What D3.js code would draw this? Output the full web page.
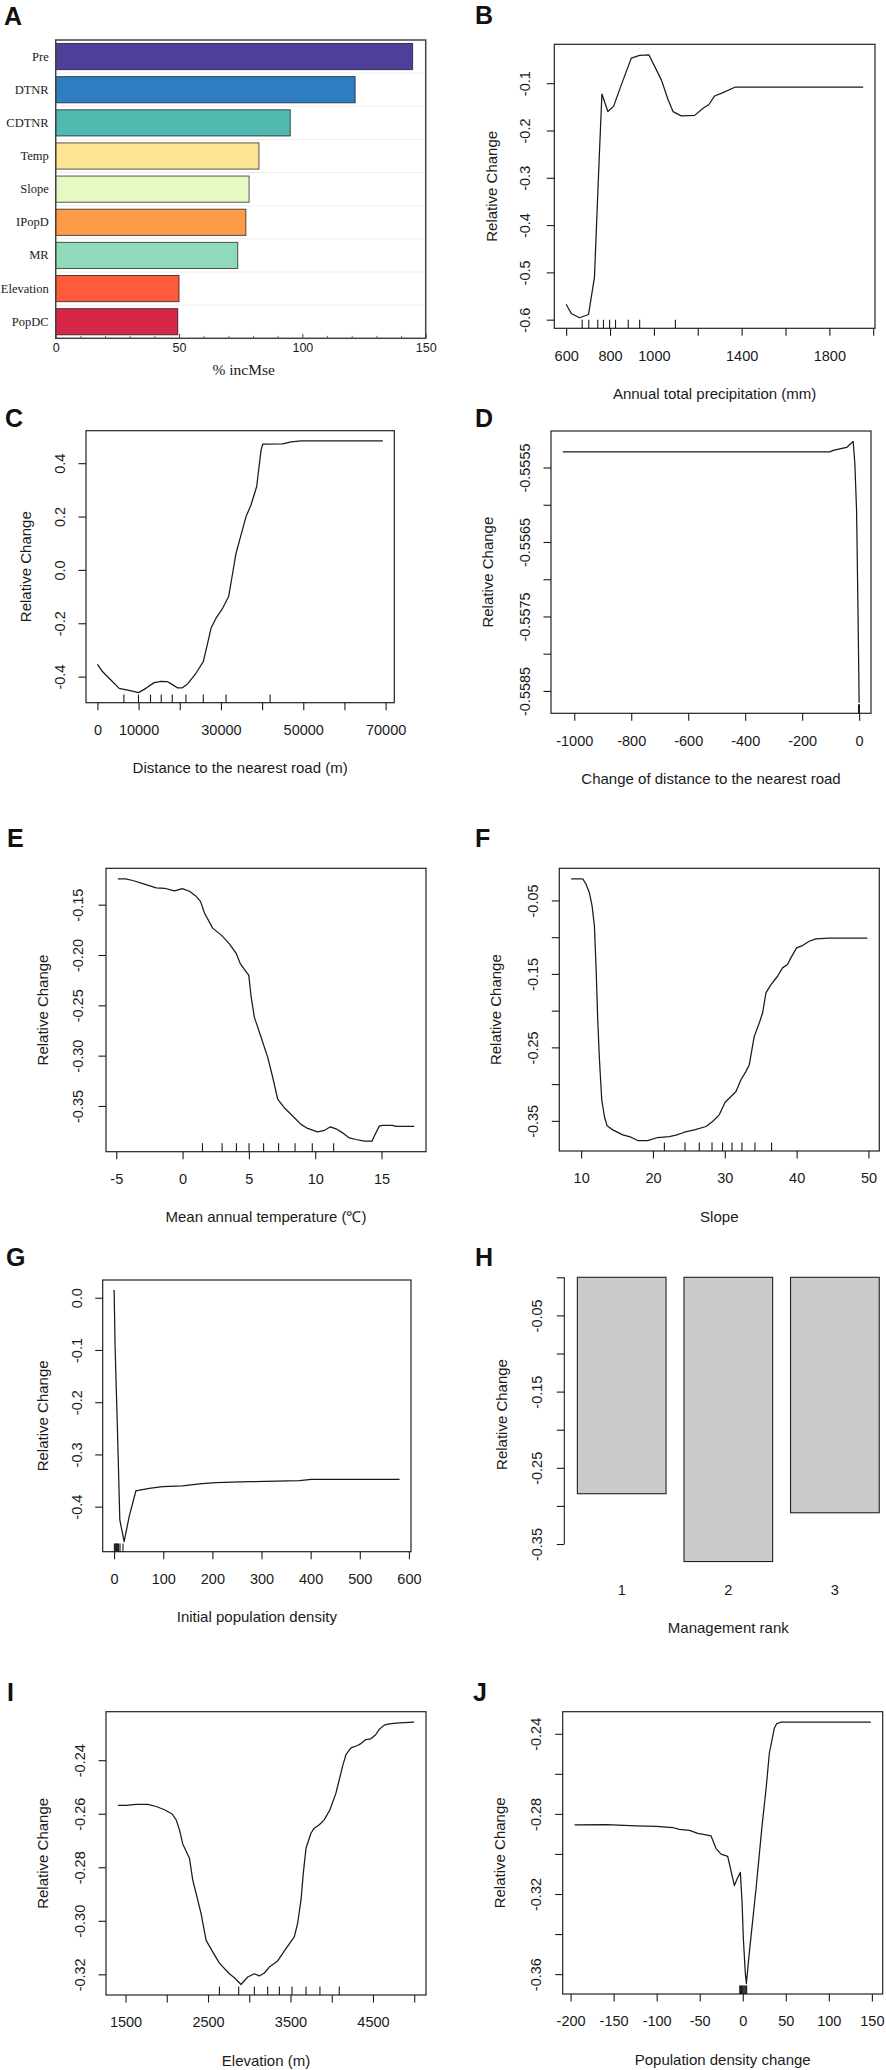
<!DOCTYPE html>
<html><head><meta charset="utf-8">
<script src="https://cdn.jsdelivr.net/npm/d3@7"></script>
<style>
body{margin:0;background:#fff;}
svg{display:block;}
</style></head><body>
<script>
// ================= DATA =================
// Panel A: variable importance
const impVars = ["Pre","DTNR","CDTNR","Temp","Slope","IPopD","MR","Elevation","PopDC"];
const impValues = [144.7,121.4,95.1,82.4,78.4,77.1,73.8,50.0,49.5];
const impTicks = [0,50,100,150];
const impMinorTicks = [10,20,30,40,60,70,80,90,110,120,130,140];
const impColors = ["#4F3F99","#2F7EC2","#52B9B1","#FEE596","#E6F9C3","#FD9B49","#8FDAB8","#FE5B3B","#D62748"];

// Panel B: annual total precipitation
const preX = [600,623,661,702,729,749,763,790,816,851,897,935,977,1034,1064,1087,1125,1186,1224,1251,1277,1315,1369,1954];
const preY = [-0.5675,-0.587,-0.596,-0.589,-0.51,-0.277,-0.123,-0.16,-0.149,-0.104,-0.047,-0.041,-0.040,-0.093,-0.134,-0.160,-0.169,-0.168,-0.153,-0.145,-0.127,-0.120,-0.1085,-0.1085];
const preRug = [673,703,744,770,798,825,883,935,1098];
const preXTicks = [600,800,1000,1200,1400,1600,1800,2000];
const preXLabels = ["600","800","1000","","1400","","1800",""];
const preYTicks = [-0.6,-0.5,-0.4,-0.3,-0.2,-0.1];
const preYLabels = ["-0.6","-0.5","-0.4","-0.3","-0.2","-0.1"];

// Panel C: distance to the nearest road
const roadX = [0,1217,2847,5280,8516,9976,11776,13795,15425,17031,18248,19464,20535,21897,23940,25716,26763,27590,28807,30413,31872,32846,33671,34889,36105,37322,38686,39756,40145,45011,47053,49486,69340];
const roadY = [-0.354,-0.381,-0.406,-0.444,-0.454,-0.46,-0.444,-0.4225,-0.4175,-0.419,-0.43,-0.4425,-0.4425,-0.4275,-0.3875,-0.344,-0.275,-0.219,-0.181,-0.144,-0.1,-0.0125,0.0625,0.131,0.2,0.244,0.3125,0.45,0.471,0.4725,0.48,0.484,0.484];
const roadRug = [6423,9976,12895,15499,18175,21508,25718,31241,41947];
const roadXTicks = [0,10000,20000,30000,40000,50000,60000,70000];
const roadXLabels = ["0","10000","","30000","","50000","","70000"];
const roadYTicks = [-0.4,-0.2,0,0.2,0.4];
const roadYLabels = ["-0.4","-0.2","0.0","0.2","0.4"];

// Panel D: change of distance to the nearest road
const cdX = [-1040,-103,-91,-68,-44,-21,-15,-9,-4,0];
const cdY = [-0.55529,-0.55529,-0.55527,-0.55525,-0.55523,-0.55515,-0.55545,-0.55608,-0.55744,-0.55866];
const cdRug = [-2,-1.5,-1,-0.5,0,0,0,0,0];
const cdXTicks = [-1000,-800,-600,-400,-200,0];
const cdXLabels = ["-1000","-800","-600","-400","-200","0"];
const cdYTicks = [-0.5585,-0.5580,-0.5575,-0.5570,-0.5565,-0.5560,-0.5555];
const cdYLabels = ["-0.5585","","-0.5575","","-0.5565","","-0.5555"];

// Panel E: mean annual temperature
const tempX = [-4.88,-4.3,-3.75,-3.0,-1.99,-1.36,-0.61,-0.03,0.52,1.02,1.35,1.65,2.27,2.98,3.53,4.04,4.34,4.74,4.99,5.17,5.41,5.92,6.42,6.8,7.17,7.67,8.3,8.93,9.43,10.18,10.69,11.14,11.57,12.06,12.57,13.07,13.7,14.28,14.45,14.83,15.08,15.83,16.08,17.46];
const tempY = [-0.1243,-0.1243,-0.126,-0.129,-0.1333,-0.1337,-0.1363,-0.134,-0.1367,-0.1417,-0.1467,-0.1583,-0.1733,-0.181,-0.189,-0.1983,-0.2083,-0.2157,-0.22,-0.2417,-0.2617,-0.2817,-0.3017,-0.3217,-0.3433,-0.3517,-0.36,-0.3683,-0.3723,-0.3757,-0.3743,-0.3707,-0.3727,-0.3767,-0.3817,-0.3833,-0.385,-0.385,-0.38,-0.37,-0.3693,-0.3693,-0.3703,-0.3703];
const tempRug = [1.5,2.98,4.06,5.01,6.11,7.24,8.48,9.78,11.39];
const tempXTicks = [-5,0,5,10,15];
const tempXLabels = ["-5","0","5","10","15"];
const tempYTicks = [-0.35,-0.30,-0.25,-0.20,-0.15];
const tempYLabels = ["-0.35","-0.30","-0.25","-0.20","-0.15"];

// Panel F: slope
const slopeX = [8.61,10.22,10.7,11.15,11.53,11.85,12.09,12.31,12.55,12.87,13.24,13.62,14.4,15.79,16.95,17.87,19.26,20.65,22.28,23.21,24.37,25.76,27.39,28.3,29.23,30.03,30.86,31.56,32.25,32.95,33.41,34.1,34.8,35.26,35.73,36.43,37.34,38.04,38.73,39.2,39.99,40.82,41.75,42.68,44.53,49.86];
const slopeY = [-0.0205,-0.0205,-0.0282,-0.0395,-0.0577,-0.085,-0.1441,-0.2123,-0.2668,-0.3214,-0.3441,-0.3568,-0.3623,-0.3691,-0.3723,-0.3768,-0.3768,-0.3727,-0.3714,-0.3695,-0.3655,-0.3623,-0.3577,-0.3509,-0.3418,-0.325,-0.3168,-0.31,-0.2941,-0.2827,-0.2736,-0.235,-0.2168,-0.2032,-0.1759,-0.1645,-0.1532,-0.1418,-0.1373,-0.1282,-0.1145,-0.1114,-0.1055,-0.1023,-0.1014,-0.1014];
const slopeRug = [21.59,24.46,26.45,28.22,29.69,31.0,32.39,34.2,36.51];
const slopeXTicks = [10,20,30,40,50];
const slopeXLabels = ["10","20","30","40","50"];
const slopeYTicks = [-0.35,-0.30,-0.25,-0.20,-0.15,-0.10,-0.05];
const slopeYLabels = ["-0.35","","-0.25","","-0.15","","-0.05"];

// Panel G: initial population density
const popX = [0,2,6.8,11.6,20.4,30.6,44.2,71.4,98.5,139.3,173.3,207.3,275.2,377.2,401,445,581];
const popY = [0.0147,-0.0938,-0.2533,-0.4255,-0.467,-0.419,-0.37,-0.365,-0.3617,-0.3604,-0.3566,-0.354,-0.3522,-0.3502,-0.3477,-0.3477,-0.3477];
const popRug = [0.5,2,3.5,5,6,7.5,9,12,18];
const popXTicks = [0,100,200,300,400,500,600];
const popXLabels = ["0","100","200","300","400","500","600"];
const popYTicks = [-0.4,-0.3,-0.2,-0.1,0];
const popYLabels = ["-0.4","-0.3","-0.2","-0.1","0.0"];

// Panel H: management rank
const mgmtRanks = ["1","2","3"];
const mgmtValues = [-0.284,-0.373,-0.309];
const mgmtYDomain = [-0.3732,0];
const mgmtYTicks = [-0.35,-0.30,-0.25,-0.20,-0.15,-0.10,-0.05,0];
const mgmtYLabels = ["-0.35","","-0.25","","-0.15","","-0.05",""];

// Panel I: elevation
const elevX = [1407,1508,1630,1770,1872,1972,2065,2114,2154,2194,2275,2315,2356,2416,2477,2557,2638,2759,2820,2901,2981,3062,3122,3183,3243,3344,3445,3546,3586,3627,3655,3688,3748,3788,3849,3909,3978,4051,4091,4131,4172,4233,4312,4353,4414,4475,4535,4575,4636,4696,4817,4999];
const elevY = [-0.2569,-0.2569,-0.2565,-0.2565,-0.2573,-0.2585,-0.2601,-0.2623,-0.266,-0.2713,-0.2766,-0.2848,-0.2898,-0.2973,-0.3073,-0.3116,-0.3158,-0.3198,-0.3213,-0.3238,-0.321,-0.3198,-0.3206,-0.3195,-0.3173,-0.315,-0.3104,-0.306,-0.301,-0.2923,-0.2823,-0.2729,-0.2673,-0.2654,-0.2641,-0.2623,-0.2585,-0.2523,-0.2473,-0.2423,-0.2379,-0.2354,-0.2345,-0.2338,-0.2323,-0.232,-0.2304,-0.2285,-0.2269,-0.2264,-0.2261,-0.2258];
const elevRug = [2638,2872,3062,3223,3365,3518,3688,3857,4091];
const elevXTicks = [1500,2000,2500,3000,3500,4000,4500,5000];
const elevXLabels = ["1500","","2500","","3500","","4500",""];
const elevYTicks = [-0.32,-0.30,-0.28,-0.26,-0.24];
const elevYLabels = ["-0.32","-0.30","-0.28","-0.26","-0.24"];

// Panel J: population density change
const pdcX = [-195.4,-158.6,-123.8,-100.6,-81.3,-73.6,-61.9,-52.3,-42.6,-36.8,-31,-25.2,-17.5,-9.7,-6.6,-2.8,-0.8,0.7,3,4.2,7.7,15.4,22.4,27,30.9,36.7,39.3,44.4,148.8];
const pdcY = [-0.2855,-0.2854,-0.286,-0.2862,-0.2868,-0.2877,-0.2882,-0.2897,-0.2905,-0.291,-0.2973,-0.3001,-0.3012,-0.3158,-0.3125,-0.3092,-0.3241,-0.3423,-0.3597,-0.3647,-0.3489,-0.3175,-0.286,-0.2678,-0.2496,-0.2372,-0.235,-0.2342,-0.2342];
const pdcRug = [-3.5,-2.5,-1.5,-0.5,0.5,1.5,2.5,3.5,4.5];
const pdcXTicks = [-200,-150,-100,-50,0,50,100,150];
const pdcXLabels = ["-200","-150","-100","-50","0","50","100","150"];
const pdcYTicks = [-0.36,-0.34,-0.32,-0.30,-0.28,-0.26,-0.24];
const pdcYLabels = ["-0.36","","-0.32","","-0.28","","-0.24"];

// ================= DRAWING =================
const SANS = "'Liberation Sans', Arial, Helvetica, sans-serif";
const SERIF = "'Liberation Serif', 'Times New Roman', serif";
const INK = "#1a1a1a";

const svg = d3.select("body").append("svg")
  .attr("width", 886).attr("height", 2070)
  .style("background", "#fff");

function letter(txt, x, y) {
  svg.append("text").attr("x", x).attr("y", y)
    .attr("font-family", SANS).attr("font-weight", "bold")
    .attr("font-size", 25).attr("fill", "#111").text(txt);
}

function rDomain(vals) {
  const lo = d3.min(vals), hi = d3.max(vals), pad = (hi - lo) * 0.04;
  return [lo - pad, hi + pad];
}

function styleAxisText(sel, size) {
  sel.attr("font-family", SANS).attr("font-size", size).attr("color", INK);
}

function linePanel(p) {
  const {l, t, r, b} = p.rect;
  const x = d3.scaleLinear().domain(rDomain(p.x)).range([l, r]);
  const y = d3.scaleLinear().domain(rDomain(p.y)).range([b, t]);
  const g = svg.append("g");

  // x axis
  const xa = g.append("g").attr("transform", `translate(0,${b})`)
    .call(d3.axisBottom(x).tickValues(p.xTicks)
      .tickFormat((d, i) => p.xLabels[i]).tickSize(7.5).tickPadding(14.5).tickSizeOuter(0));
  xa.select(".domain").remove();
  styleAxisText(xa, 14.5);
  xa.selectAll("line").attr("stroke-width", 1.1);

  // y axis (labels parallel to axis, as in R)
  const ya = g.append("g").attr("transform", `translate(${l},0)`)
    .call(d3.axisLeft(y).tickValues(p.yTicks)
      .tickFormat((d, i) => p.yLabels[i]).tickSize(7.5).tickSizeOuter(0));
  ya.select(".domain").remove();
  styleAxisText(ya, 14.5);
  ya.selectAll("line").attr("stroke-width", 1.1);
  ya.selectAll("text")
    .attr("x", null).attr("dy", "0.35em")
    .attr("text-anchor", "middle")
    .attr("transform", `translate(${-p.yLabOff},0) rotate(-90)`);

  // box
  g.append("rect").attr("x", l).attr("y", t)
    .attr("width", r - l).attr("height", b - t)
    .attr("fill", "none").attr("stroke", "#222").attr("stroke-width", 1.2);

  // rug
  const rugLen = 0.03 * (b - t);
  g.append("g").selectAll("line").data(p.rug).join("line")
    .attr("x1", d => x(d)).attr("x2", d => x(d))
    .attr("y1", b).attr("y2", b - rugLen)
    .attr("stroke", INK).attr("stroke-width", 1.1);

  // curve
  g.append("path").datum(d3.zip(p.x, p.y))
    .attr("d", d3.line().x(d => x(d[0])).y(d => y(d[1])))
    .attr("fill", "none").attr("stroke", INK)
    .attr("stroke-width", 1.25).attr("stroke-linejoin", "round");

  // titles
  g.append("text").attr("x", (l + r) / 2).attr("y", b + 70.5)
    .attr("text-anchor", "middle").attr("font-family", SANS)
    .attr("font-size", 15).attr("fill", INK).text(p.xTitle);
  g.append("text")
    .attr("transform", `translate(${l - p.yTitleOff},${(t + b) / 2}) rotate(-90)`)
    .attr("dy", "0.35em").attr("text-anchor", "middle")
    .attr("font-family", SANS).attr("font-size", 15).attr("fill", INK)
    .text("Relative Change");

  letter(p.letter, p.lx, p.ly);
}

// ---------- Panel A ----------
(function () {
  const l = 55.7, t = 40, r = 425.7, b = 338.3;
  const x = d3.scaleLinear().domain([0, 150]).range([l, r]);
  const y = d3.scaleBand().domain(impVars).range([t, b]).paddingInner(0.21).paddingOuter(0.105);
  const g = svg.append("g");

  // faint grid lines between bars
  const bounds = impVars.slice(1).map(v => y(v) - y.step() * y.paddingInner() / 2);
  g.append("g").selectAll("line").data(bounds).join("line")
    .attr("x1", l).attr("x2", r).attr("y1", d => d).attr("y2", d => d)
    .attr("stroke", "#e9e9e9").attr("stroke-width", 0.8);

  g.append("g").selectAll("rect").data(impVars).join("rect")
    .attr("x", x(0)).attr("y", d => y(d))
    .attr("width", (d, i) => x(impValues[i]) - x(0))
    .attr("height", y.bandwidth())
    .attr("fill", (d, i) => impColors[i])
    .attr("stroke", "rgba(0,0,0,0.65)").attr("stroke-width", 1);

  g.append("rect").attr("x", l).attr("y", t).attr("width", r - l).attr("height", b - t)
    .attr("fill", "none").attr("stroke", "#444").attr("stroke-width", 1.5);

  const xa = g.append("g").attr("transform", `translate(0,${b})`)
    .call(d3.axisBottom(x).tickValues(impTicks).tickFormat(d3.format("d"))
      .tickSize(-4.5).tickPadding(4.5).tickSizeOuter(0));
  xa.select(".domain").remove();
  styleAxisText(xa, 12.5);
  xa.selectAll("line").attr("stroke", "#444");
  const xm = g.append("g").attr("transform", `translate(0,${b})`)
    .call(d3.axisBottom(x).tickValues(impMinorTicks).tickFormat("").tickSize(-2.5).tickSizeOuter(0));
  xm.select(".domain").remove();
  xm.selectAll("line").attr("stroke", "#666");

  const ya = g.append("g").attr("transform", `translate(${l},0)`)
    .call(d3.axisLeft(y).tickSize(0).tickPadding(7));
  ya.select(".domain").remove();
  ya.attr("font-family", SERIF).attr("font-size", 12.5).attr("color", INK);

  g.append("text").attr("x", (l + r) / 2 + 3).attr("y", 374.5)
    .attr("text-anchor", "middle").attr("font-family", SERIF)
    .attr("font-size", 15.5).attr("fill", INK).text("% incMse");

  letter("A", 4, 25);
})();

// ---------- Line panels ----------
linePanel({letter: "B", lx: 475, ly: 24, rect: {l: 554.3, t: 44.3, r: 875, b: 328.3},
  x: preX, y: preY, rug: preRug, xTicks: preXTicks, xLabels: preXLabels,
  yTicks: preYTicks, yLabels: preYLabels, yLabOff: 29, yTitleOff: 62.6,
  xTitle: "Annual total precipitation (mm)"});

linePanel({letter: "C", lx: 5, ly: 427, rect: {l: 86, t: 430.7, r: 394.3, b: 702.7},
  x: roadX, y: roadY, rug: roadRug, xTicks: roadXTicks, xLabels: roadXLabels,
  yTicks: roadYTicks, yLabels: roadYLabels, yLabOff: 26, yTitleOff: 60,
  xTitle: "Distance to the nearest road (m)"});

linePanel({letter: "D", lx: 475, ly: 427, rect: {l: 551, t: 431, r: 871, b: 713.3},
  x: cdX, y: cdY, rug: cdRug, xTicks: cdXTicks, xLabels: cdXLabels,
  yTicks: cdYTicks, yLabels: cdYLabels, yLabOff: 26, yTitleOff: 63.3,
  xTitle: "Change of distance to the nearest road"});

linePanel({letter: "E", lx: 7, ly: 847, rect: {l: 106, t: 868.3, r: 426, b: 1151.7},
  x: tempX, y: tempY, rug: tempRug, xTicks: tempXTicks, xLabels: tempXLabels,
  yTicks: tempYTicks, yLabels: tempYLabels, yLabOff: 27.7, yTitleOff: 63.3,
  xTitle: "Mean annual temperature (\u2103)"});

linePanel({letter: "F", lx: 475, ly: 847, rect: {l: 559.3, t: 868.3, r: 879.3, b: 1151},
  x: slopeX, y: slopeY, rug: slopeRug, xTicks: slopeXTicks, xLabels: slopeXLabels,
  yTicks: slopeYTicks, yLabels: slopeYLabels, yLabOff: 26, yTitleOff: 63.3,
  xTitle: "Slope"});

linePanel({letter: "G", lx: 6, ly: 1266, rect: {l: 102.7, t: 1280, r: 411, b: 1551.7},
  x: popX, y: popY, rug: popRug, xTicks: popXTicks, xLabels: popXLabels,
  yTicks: popYTicks, yLabels: popYLabels, yLabOff: 25.4, yTitleOff: 60,
  xTitle: "Initial population density"});

linePanel({letter: "I", lx: 7, ly: 1701, rect: {l: 106, t: 1711.7, r: 426, b: 1995},
  x: elevX, y: elevY, rug: elevRug, xTicks: elevXTicks, xLabels: elevXLabels,
  yTicks: elevYTicks, yLabels: elevYLabels, yLabOff: 26, yTitleOff: 63.3,
  xTitle: "Elevation (m)"});

linePanel({letter: "J", lx: 473, ly: 1701, rect: {l: 562.7, t: 1711.7, r: 882.7, b: 1994},
  x: pdcX, y: pdcY, rug: pdcRug, xTicks: pdcXTicks, xLabels: pdcXLabels,
  yTicks: pdcYTicks, yLabels: pdcYLabels, yLabOff: 26.7, yTitleOff: 63.4,
  xTitle: "Population density change"});

// ---------- Panel H (bar plot) ----------
(function () {
  const axisX = 564.3, yTop = 1277.3, yBot = 1561.7, base = 1562.5;
  const x = d3.scaleBand().domain(mgmtRanks).range([568.4, 888.2])
    .paddingInner(0.168).paddingOuter(0.084);
  const y = d3.scaleLinear().domain(mgmtYDomain).range([yBot, yTop]);
  const g = svg.append("g");

  g.append("g").selectAll("rect").data(mgmtRanks).join("rect")
    .attr("x", d => x(d)).attr("width", x.bandwidth())
    .attr("y", y(0)).attr("height", (d, i) => y(mgmtValues[i]) - y(0))
    .attr("fill", "#cbcbcb").attr("stroke", "#222").attr("stroke-width", 1.1);

  const ya = g.append("g").attr("transform", `translate(${axisX},0)`)
    .call(d3.axisLeft(y).tickValues(mgmtYTicks)
      .tickFormat((d, i) => mgmtYLabels[i]).tickSize(7.5).tickSizeOuter(0));
  ya.select(".domain").remove();
  styleAxisText(ya, 14.5);
  ya.selectAll("line").attr("stroke-width", 1.1);
  ya.selectAll("text")
    .attr("x", null).attr("dy", "0.35em").attr("text-anchor", "middle")
    .attr("transform", "translate(-27.6,0) rotate(-90)");
  g.append("line").attr("x1", axisX).attr("x2", axisX)
    .attr("y1", y(d3.max(mgmtYTicks))).attr("y2", y(d3.min(mgmtYTicks)))
    .attr("stroke", INK).attr("stroke-width", 1.1);

  // category names (no tick marks, as in R barplot)
  const xa = g.append("g").attr("transform", `translate(0,${base})`)
    .call(d3.axisBottom(x).tickSize(0).tickPadding(22));
  xa.select(".domain").remove();
  styleAxisText(xa, 14.5);

  g.append("text").attr("x", x("2") + x.bandwidth() / 2).attr("y", base + 70.5)
    .attr("text-anchor", "middle").attr("font-family", SANS)
    .attr("font-size", 15).attr("fill", INK).text("Management rank");
  g.append("text")
    .attr("transform", `translate(${axisX - 62.6},${(yTop + yBot) / 2 - 5}) rotate(-90)`)
    .attr("dy", "0.35em").attr("text-anchor", "middle")
    .attr("font-family", SANS).attr("font-size", 15).attr("fill", INK)
    .text("Relative Change");

  letter("H", 475, 1266);
})();
</script>
</body></html>
